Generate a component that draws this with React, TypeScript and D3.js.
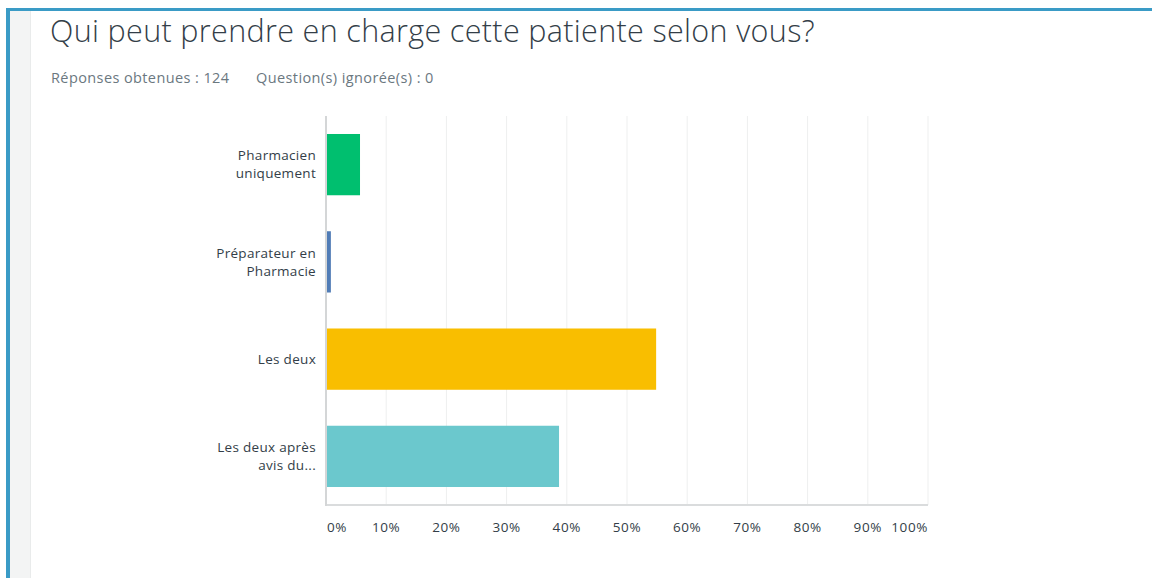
import * as d3 from 'd3'
import { FC } from 'react'

const WIDTH = 1152
const HEIGHT = 578
const PLOT = { left: 326, right: 928, top: 116, bottom: 505 }

const TITLE = 'Qui peut prendre en charge cette patiente selon vous?'
const ANSWERED = 'Réponses obtenues : 124'
const SKIPPED = 'Question(s) ignorée(s) : 0'

const categories = [
  ['Pharmacien', 'uniquement'],
  ['Préparateur en', 'Pharmacie'],
  ['Les deux'],
  ['Les deux après', 'avis du...'],
]
const shares = [0.0565, 0.0081, 0.5484, 0.3871]
const colors = ['#00bf6f', '#507cb6', '#f9be00', '#6bc8cd']
const ticks = [0, 0.1, 0.2, 0.3, 0.4, 0.5, 0.6, 0.7, 0.8, 0.9, 1]

const FONT = '"Open Sans", "DejaVu Sans", sans-serif'

const App: FC = () => {
  const xScale = d3.scaleLinear().domain([0, 1]).range([PLOT.left, PLOT.right])
  const keys = categories.map((c) => c.join(' '))
  const yScale = d3
    .scaleBand()
    .domain(keys)
    .range([PLOT.top, PLOT.bottom])
    .paddingInner(0.37)
    .paddingOuter(0.185)

  const fmt = d3.format('.0%')

  return (
    <svg
      width={ WIDTH }
      height={ HEIGHT }
      style={ { position: 'absolute', left: 0, top: 0, background: '#fff' } }
      fontFamily={ FONT }
    >
      {/* frame */}
      <rect x={ 10 } y={ 11 } width={ 21 } height={ HEIGHT - 11 } fill='#f3f4f4' />
      <line x1={ 30.5 } x2={ 30.5 } y1={ 11 } y2={ HEIGHT } stroke='#e9ebeb' />
      <rect x={ 6 } y={ 8 } width={ WIDTH - 6 } height={ 3 } fill='#3a9bc6' />
      <rect x={ 6 } y={ 8 } width={ 4 } height={ HEIGHT - 8 } fill='#3a9bc6' />

      {/* header */}
      <text x={ 50 } y={ 42 } fontSize={ 30.5 } fontWeight={ 300 } letterSpacing={ 0.35 } fill='#333e48'>
        { TITLE }
      </text>
      <text x={ 51 } y={ 83 } fontSize={ 14.5 } letterSpacing={ 0.4 } fill='#6b787f'>
        { ANSWERED }
      </text>
      <text x={ 256 } y={ 83 } fontSize={ 14.5 } letterSpacing={ 0.4 } fill='#6b787f'>
        { SKIPPED }
      </text>

      {/* grid */}
      { ticks.slice(1).map((t) => (
        <line
          key={ t }
          x1={ xScale(t) }
          x2={ xScale(t) }
          y1={ PLOT.top }
          y2={ PLOT.bottom }
          stroke='#eeefef'
        />
      )) }
      <line x1={ PLOT.left } x2={ PLOT.right } y1={ PLOT.bottom } y2={ PLOT.bottom } stroke='#dadcdd' strokeWidth={ 2 } />
      <line x1={ PLOT.left } x2={ PLOT.left } y1={ PLOT.top } y2={ PLOT.bottom + 1 } stroke='#d4d6d7' strokeWidth={ 2 } />

      {/* bars */}
      { keys.map((k, i) => (
        <rect
          key={ k }
          x={ xScale(0) + 1 }
          y={ yScale(k) }
          width={ Math.max(0, xScale(shares[i]) - xScale(0) - 1) }
          height={ yScale.bandwidth() }
          fill={ colors[i] }
        />
      )) }

      {/* category labels */}
      { categories.map((lines, i) => {
        const cy = (yScale(keys[i]) as number) + yScale.bandwidth() / 2
        const lh = 18
        const y0 = cy - ((lines.length - 1) * lh) / 2
        return (
          <text
            key={ i }
            x={ 316 }
            textAnchor='end'
            fontSize={ 13.5 }
            letterSpacing={ 0.3 }
            fill='#333e48'
          >
            { lines.map((l, j) => (
              <tspan key={ j } x={ 316 } y={ y0 + j * lh } dy='0.35em'>
                { l }
              </tspan>
            )) }
          </text>
        )
      }) }

      {/* x tick labels */}
      { ticks.map((t, i) => (
        <text
          key={ t }
          x={ i === 0 ? xScale(t) + 1 : xScale(t) }
          y={ 532 }
          fontSize={ 13.5 }
          letterSpacing={ 0.6 }
          fill='#333e48'
          textAnchor={ i === 0 ? 'start' : i === ticks.length - 1 ? 'end' : 'middle' }
        >
          { fmt(t) }
        </text>
      )) }
    </svg>
  )
}

export default App
